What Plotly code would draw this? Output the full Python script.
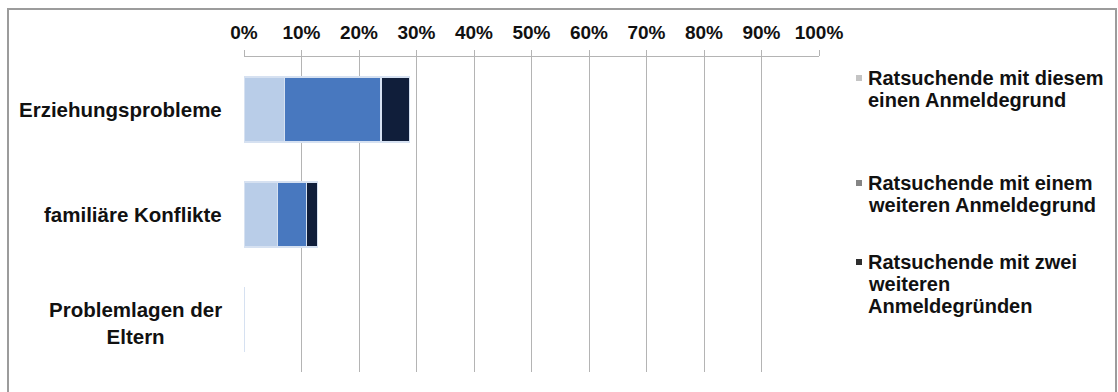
import plotly.graph_objects as go

# Registration reasons (share of clients, %)
categories = ["Erziehungsprobleme", "familiäre Konflikte", "Problemlagen der Eltern"]
category_labels = ["Erziehungsprobleme", "familiäre Konflikte", "Problemlagen der<br>Eltern"]
only_this_reason = [7.0, 5.8, 0.0]
one_more_reason = [16.8, 5.1, 0.0]
two_more_reasons = [5.0, 1.9, 0.0]

series_names = [
    ["Ratsuchende mit diesem", "einen Anmeldegrund"],
    ["Ratsuchende mit einem", "weiteren Anmeldegrund"],
    ["Ratsuchende mit zwei", "weiteren", "Anmeldegründen"],
]
x_ticks = [0, 10, 20, 30, 40, 50, 60, 70, 80, 90, 100]

W, H = 1118, 392
ML, MR, MT, MB = 244, 299, 57, 20
PW, PH = W - ML - MR, H - MT - MB

def px(x):
    return (x - ML) / PW

def py(y):
    return (H - MB - y) / PH

FONT = "Liberation Sans, Arial, sans-serif"
bar_colors = ["#b9cde8", "#4878bf", "#101e3a"]
legend_swatches = ["#c4c4c4", "#858585", "#2e2e2e"]
grid = "#b4b4b4"

fig = go.Figure()
for vals, col, name in zip([only_this_reason, one_more_reason, two_more_reasons],
                           bar_colors, series_names):
    fig.add_trace(go.Bar(
        y=categories, x=vals, orientation="h", name=" ".join(name),
        marker=dict(color=col, line=dict(color="#d6e1f1", width=1.5)),
        showlegend=False, hoverinfo="x+name",
    ))

annotations = []
# category labels to the left of the bars
for cat, lab in zip(categories, category_labels):
    annotations.append(dict(
        x=px(224), y=cat, xref="paper", yref="y", xanchor="right", yanchor="middle",
        text=f"<b>{lab}</b>", showarrow=False, align="center",
        yshift=-3 if "<br>" in lab else 0,
        font=dict(family=FONT, size=20.5, color="#111111"),
    ))

# legend block on the right
legend_tops = [78, 183, 262]
line_step = 22
shapes = []
for top, lines, sw in zip(legend_tops, series_names, legend_swatches):
    for i, line in enumerate(lines):
        annotations.append(dict(
            x=px(866), y=py(top + i * line_step), xref="paper", yref="paper",
            xanchor="left", yanchor="middle", text=f"<b>{line}</b>", showarrow=False,
            font=dict(family=FONT, size=20, color="#111111"),
        ))
    shapes.append(dict(
        type="rect", xref="paper", yref="paper",
        x0=px(856), x1=px(862), y0=py(top - 3), y1=py(top + 3),
        fillcolor=sw, line=dict(width=0),
    ))

# outer frame
shapes.append(dict(
    type="rect", xref="paper", yref="paper",
    x0=px(8), x1=px(1116), y0=py(9), y1=py(400),
    line=dict(color="#9c9c9c", width=2), fillcolor="rgba(0,0,0,0)", layer="below",
))

fig.update_layout(
    width=W, height=H,
    margin=dict(l=ML, r=MR, t=MT, b=MB),
    barmode="stack", bargap=0.38,
    paper_bgcolor="white", plot_bgcolor="white",
    font=dict(family=FONT, color="#111111"),
    xaxis=dict(
        side="top", range=[0, 100], tickvals=x_ticks,
        ticktext=[f"{v}%" for v in x_ticks],
        tickfont=dict(family=FONT, size=19, color="#111111", weight="bold"),
        ticklabelstandoff=3,
        showgrid=True, gridcolor=grid, gridwidth=1,
        showline=True, linecolor=grid, linewidth=1,
        ticks="outside", ticklen=6, tickcolor=grid,
        zeroline=False, fixedrange=True,
    ),
    yaxis=dict(
        categoryorder="array", categoryarray=categories, autorange="reversed",
        showticklabels=False, showgrid=False, zeroline=False,
        showline=False, ticks="", fixedrange=True,
    ),
    annotations=annotations, shapes=shapes,
    showlegend=False,
)

fig.write_html("out.html")
